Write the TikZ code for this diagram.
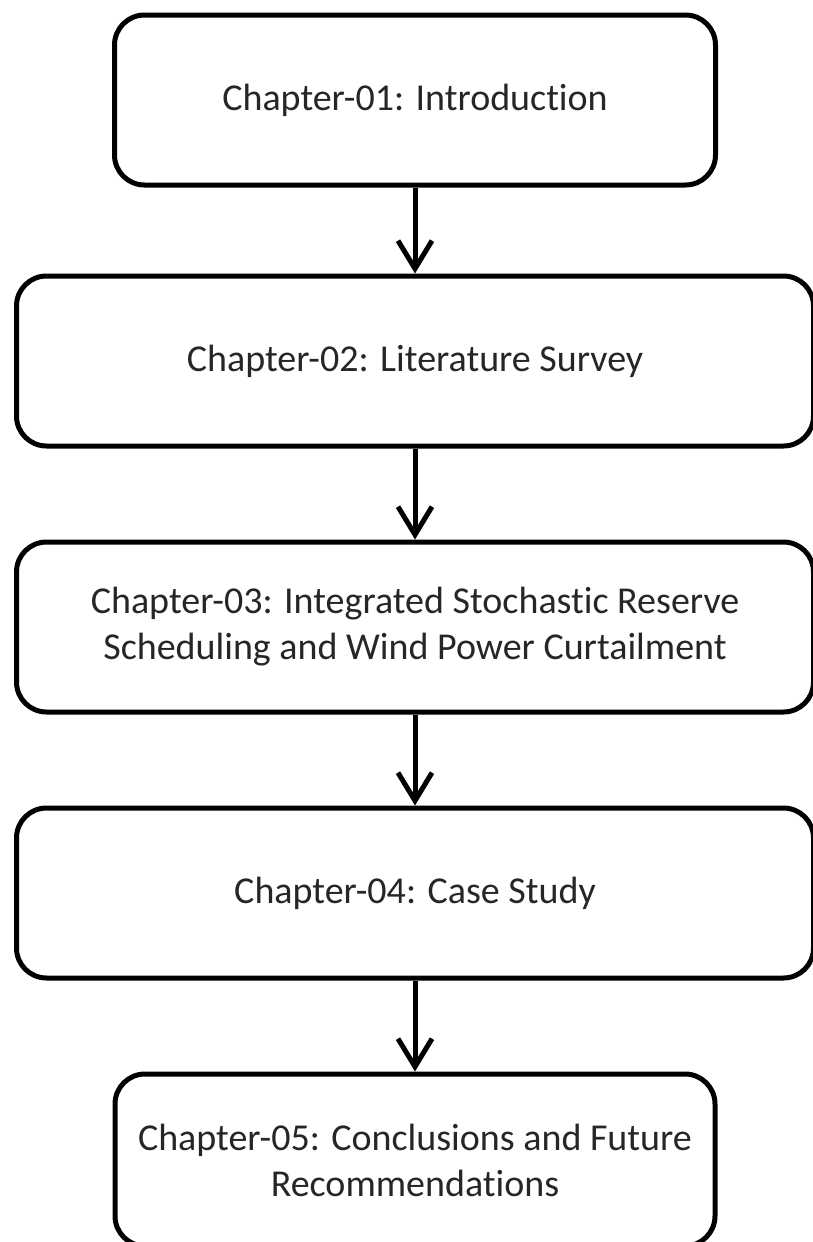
\documentclass[tikz,border=0pt]{standalone}
\usepackage{fontspec}
\setmainfont{Carlito}[Ligatures=NoCommon]
\usepackage{tikz}
\usetikzlibrary{arrows.meta,positioning}

\begin{document}
\begin{tikzpicture}[
    x=1pt, y=-1pt,
    chap/.style={rectangle, rounded corners=30pt, draw, line width=5pt,
        align=center, font=\fontsize{38}{46}\selectfont, text=black!85,
        minimum height=170pt},
    edge/.style={line width=5pt, -{Straight Barb[length=28pt, width=34pt]}}
]
    \useasboundingbox (0,0) rectangle (813,1242);

    \node[chap, minimum width=601pt] (ch1) at (415,100) {Chapter-01: Introduction};
    \node[chap, minimum width=797pt] (ch2) at (415,361) {Chapter-02: Literature Survey};
    \node[chap, minimum width=797pt] (ch3) at (415,627) {Chapter-03: Integrated Stochastic Reserve\\Scheduling and Wind Power Curtailment};
    \node[chap, minimum width=797pt] (ch4) at (415,893) {Chapter-04: Case Study};
    \node[chap, minimum width=600pt, minimum height=172pt] (ch5) at (415,1160) {Chapter-05: Conclusions and Future\\Recommendations};

    \draw[edge] (ch1) -- (ch2);
    \draw[edge] (ch2) -- (ch3);
    \draw[edge] (ch3) -- (ch4);
    \draw[edge] (ch4) -- (ch5);
\end{tikzpicture}
\end{document}
